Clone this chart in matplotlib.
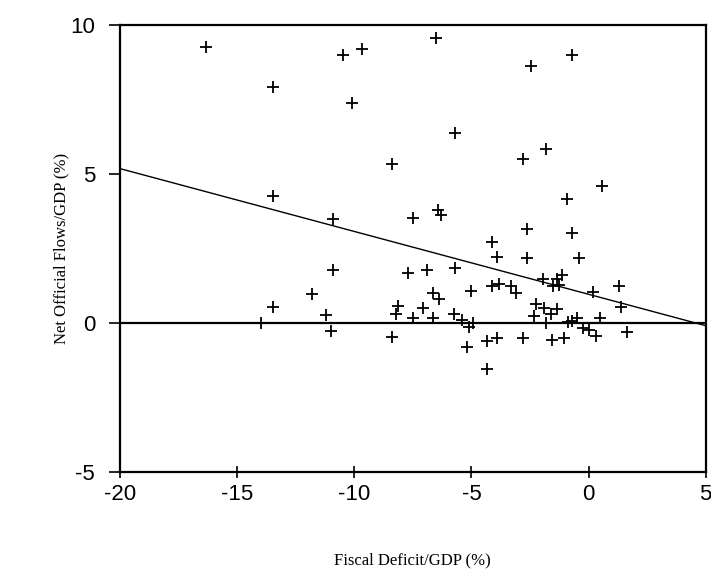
import matplotlib
matplotlib.use("Agg")
import matplotlib.pyplot as plt

# Data
fiscal_deficit = [
    -16.34, -10.47, -9.69, -13.46, -10.08, -8.38, -6.51, -0.70, -2.47, -5.70,
    -1.82, -2.79, -13.48, -10.92, -7.51, -10.90, -7.72, -6.91, -11.79, -13.48,
    -11.21, -8.15, -8.22, -7.08, -7.51, -13.98, -10.99, -8.40, 0.56, -0.91,
    -6.41, -6.31, -2.61, -0.69, -4.11, -3.90, -2.61, -0.41, -5.70, -1.93,
    -1.36, -1.15, -1.51, -1.25, 1.30, 0.20, -5.02, -4.11, -3.82, -3.33,
    -3.11, -6.63, -6.37, 1.38, -2.25, -1.91, -1.34, -1.62, -2.33, -6.63,
    -5.73, -5.39, -5.10, -4.95, 0.49, -0.51, -0.72, -0.87, -1.82, -0.23,
    0.02, 0.30, 1.65, -5.20, -4.35, -3.92, -4.32, -2.79, -1.54, -1.04,
]
official_flows = [
    9.26, 8.98, 9.18, 7.90, 7.36, 5.33, 9.54, 8.98, 8.62, 6.36,
    5.83, 5.49, 4.25, 3.48, 3.52, 1.77, 1.66, 1.78, 0.95, 0.53,
    0.26, 0.57, 0.29, 0.50, 0.15, -0.02, -0.28, -0.49, 4.59, 4.14,
    3.78, 3.61, 3.13, 3.00, 2.70, 2.21, 2.16, 2.16, 1.83, 1.46,
    1.46, 1.60, 1.23, 1.27, 1.23, 1.02, 1.07, 1.24, 1.29, 1.23,
    0.99, 1.01, 0.80, 0.54, 0.63, 0.48, 0.45, 0.29, 0.22, 0.17,
    0.29, 0.09, -0.13, 0.00, 0.15, 0.15, 0.07, 0.03, 0.00, -0.19,
    -0.25, -0.45, -0.30, -0.81, -0.61, -0.50, -1.55, -0.52, -0.58, -0.50,
]
fit_x = [-20, 5]
fit_y = [5.17, -0.10]
x_ticks = [-20, -15, -10, -5, 0, 5]
y_ticks = [-5, 0, 5, 10]

fig = plt.figure(figsize=(7.11, 5.77), dpi=100)
ax = fig.add_axes([0.1688, 0.1825, 0.8237, 0.7747])

ax.axhline(0, color="black", lw=1.6, zorder=2)
ax.plot(fit_x, fit_y, color="black", lw=1.0, zorder=2)
ax.plot(fiscal_deficit, official_flows, linestyle="none", marker="+",
        color="black", markersize=9, markeredgewidth=1.3, zorder=3)

ax.set_xlim(-20, 5)
ax.set_ylim(-5, 10)
ax.set_xticks(x_ticks)
ax.set_yticks(y_ticks)
ax.set_xticklabels([str(v) for v in x_ticks], family="Liberation Sans", fontsize=16)
ax.set_yticklabels([str(v) for v in y_ticks], family="Liberation Sans", fontsize=16)
ax.tick_params(axis="x", direction="inout", length=9, width=1.2, pad=4)
ax.tick_params(axis="y", direction="out", length=8, width=1.2, pad=10)

for s in ax.spines.values():
    s.set_linewidth(1.6)

fig.text(0.58, 0.029, "Fiscal Deficit/GDP (%)", family="Liberation Serif",
         fontsize=12, ha="center", va="center")
fig.text(0.087, 0.570, "Net Official Flows/GDP (%)", family="Liberation Serif",
         fontsize=12, ha="center", va="center", rotation=90)

fig.savefig("out.png", dpi=100)
